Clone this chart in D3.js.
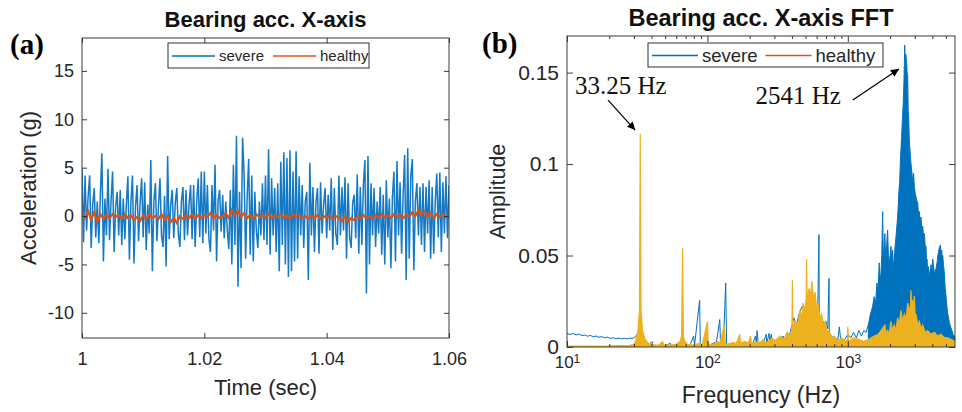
<!DOCTYPE html>
<html>
<head>
<meta charset="utf-8">
<script src="https://cdn.jsdelivr.net/npm/d3@7"></script>
<style>
body{margin:0;background:#fff}
</style>
</head>
<body>
<script>
// ---- (a) time signal, sampled every 0.25 ms from t = 1 s ----
let t0 = 1, dt = 0.00025, dtH = 0.0005
let severeAcc = [
  4.9, -2.7, 4.2, -1.5, 2.0, 4.2, -3.3, 1.2, 2.9, -2.2,
  1.5, -2.8, 2.2, 6.5, -4.7, 1.8, -2.0, 4.9, -2.5, 1.6,
  4.6, -3.7, 1.0, 2.5, -2.0, 2.7, -3.0, 1.8, -2.4, 1.2,
  4.1, -4.5, 1.5, 4.2, -4.9, 1.0, 3.2, -2.6, 1.4, 3.9,
  -2.2, 3.5, -3.5, 1.2, -1.8, 5.8, -5.7, 1.5, 3.4, -2.6,
  1.0, 3.9, -2.0, -3.2, 2.1, -5.2, 6.2, -2.4, 1.1, 2.7,
  -2.3, 1.4, 2.9, -1.8, -3.2, 1.5, 3.0, -2.5, 2.7, -2.0,
  1.2, 3.2, -2.4, 3.2, -3.2, 1.5, 3.9, -2.2, 4.6, -2.8,
  4.6, -1.8, 3.2, -2.4, -3.7, 3.2, -1.5, 5.3, -4.7, 1.6,
  2.7, -1.6, 2.2, -2.3, 1.5, -1.4, -3.4, 2.7, -5.0, 5.3,
  -3.0, 8.3, -7.3, 2.5, -5.4, 8.1, 4.4, -4.4, 2.0, 5.9,
  -4.0, 4.2, -4.7, 2.5, -1.5, -3.3, 1.5, -2.0, 3.4, -2.5,
  4.2, -3.0, 6.9, -4.0, 3.9, -2.0, 2.9, -3.7, 3.4, -5.7,
  5.6, -3.0, 6.6, -5.0, 6.0, -6.3, 6.8, -5.7, 4.6, -4.7,
  6.7, -4.4, 4.1, -2.0, 3.2, -3.3, 1.5, 2.5, -6.6, 5.5,
  -2.0, 3.0, -3.7, 1.4, 2.9, -3.9, 3.5, -1.8, 1.2, 2.9,
  -2.3, 2.2, -1.5, 3.9, -3.5, 2.9, -1.8, -3.0, 4.2, -2.0,
  3.0, -1.5, 4.0, -4.4, 3.4, -2.2, -3.3, 1.4, 2.2, -2.3,
  4.3, -3.9, 3.0, -3.0, 3.2, 5.8, -8.0, 6.2, -5.0, 3.4,
  -2.0, 2.9, -3.2, 1.5, -1.8, 3.0, -4.0, 2.2, -5.0, 3.7,
  -2.2, 1.8, -5.4, 2.0, 4.6, -4.7, 5.7, -2.0, 3.5, -3.9,
  2.2, 6.3, -6.6, 7.0, -4.4, 4.1, 5.9, -5.6, 1.5, 3.4,
  -2.0, 3.0, -3.0, 3.4, -3.7, 3.0, -1.8, 3.7, -4.4, 3.0,
  -3.9, 1.5, 4.4, -2.2, 4.5, -3.7, 3.5, -1.8, 4.1, -2.3,
  3.2
]
let healthyAcc = [
  0.3, -0.2, 0.5, -0.4, 0.4, -0.6, 0.2, -0.3, 0.1, -0.2,
  0.2, -0.1, 0.1, -0.3, 0.2, -0.2, 0.1, -0.4, -0.1, -0.5,
  0.1, -0.3, 0.2, -0.2, 0.0, -0.3, 0.2, -0.4, 0.0, -0.6,
  -0.2, -0.7, 0.0, -0.3, 0.1, -0.2, 0.2, -0.3, 0.1, -0.2,
  0.1, -0.1, 0.3, -0.2, 0.1, -0.2, 0.0, 0.3, -0.2, 0.6,
  0.1, 0.5, -0.1, 0.3, -0.2, 0.1, -0.3, 0.2, -0.1, 0.1,
  -0.2, 0.2, -0.2, 0.1, -0.1, 0.2, -0.2, 0.1, -0.3, 0.2,
  -0.1, 0.1, -0.2, 0.0, -0.3, 0.1, -0.2, 0.1, -0.3, 0.0,
  -0.2, 0.1, -0.3, 0.0, -0.2, -0.5, 0.0, -0.6, -0.2, -0.4,
  0.0, -0.3, 0.1, -0.2, 0.0, -0.3, 0.1, -0.2, 0.2, -0.1,
  0.1, -0.2, 0.2, -0.1, 0.2, -0.2, 0.1, -0.1, 0.4, 0.0,
  0.6, 0.1, 0.5, -0.1, 0.3, -0.2, 0.2, -0.1, 0.2, -0.1, 0.0
]
let timeTicks = [1, 1.02, 1.04, 1.06]
let accTicks = [-10, -5, 0, 5, 10, 15]

// ---- (b) FFT amplitude ----
// severe: low/mid frequency trace
let sevFreq = [10, 10.5, 11, 11.6, 12.2, 12.8, 13.4, 14, 14.7, 15.4, 16.1, 16.9, 17.7, 18.5, 19.4, 20.3, 21.3, 22.3, 23.4, 24.5,
  25.7, 26.9, 28.2, 29.5, 30.6, 31.6, 32.5, 33.25, 34, 35, 36.5, 38, 40.3, 41, 45, 50, 54.5, 55, 60, 66.5,
  68, 75, 79.8, 81, 88, 89, 95, 100, 104, 113, 115, 122.5, 124, 130, 135, 137, 150, 160, 165, 180,
  190, 200, 210, 220, 223, 226, 230, 245, 250, 262, 265, 275, 278, 285, 288, 300, 310, 320, 330, 345,
  355, 370, 380, 400, 413, 430, 450, 470, 490, 510, 530, 550, 570, 590, 610, 623, 626, 650, 680, 700,
  720, 735, 738, 760, 800, 850, 870, 890, 950, 1000, 1050, 1100, 1150, 1200, 1250, 1300, 1350, 1400]
let sevAmp = [.0075, .0068, .0074, .0066, .0071, .0062, .0066, .0059, .0063, .0056, .0060, .0053, .0057, .0050, .0054, .0047, .0051, .0045, .0049, .0044,
  .0048, .0044, .0049, .0047, .0056, .0070, .0095, .012, .006, .003, .0015, .001, .003, .0008, .0006, .0008, .002, .0007, .0008, .004,
  .0008, .0009, .006, .0009, .0256, .001, .0012, .003, .001, .0025, .001, .015, .0012, .0015, .035, .0012, .0015, .002, .0015, .0025,
  .0015, .003, .0015, .006, .0018, .009, .002, .003, .002, .007, .002, .0075, .002, .007, .002, .004, .003, .005, .003, .006,
  .004, .008, .005, .012, .016, .012, .018, .022, .02, .025, .022, .024, .02, .022, .018, .0614, .015, .016, .012, .014,
  .01, .0375, .008, .006, .005, .004, .011, .004, .004, .007, .005, .008, .005, .009, .006, .009, .008, .012]
// severe: dense band around the 2541 Hz resonance (upper envelope)
let sevBandFreq = [1400, 1450, 1500, 1541, 1580, 1611, 1640, 1674, 1700, 1722, 1745, 1770, 1785, 1799, 1818, 1837, 1860, 1878, 1900, 1921,
  1945, 1972, 2000, 2028, 2055, 2085, 2110, 2142, 2170, 2202, 2230, 2263, 2290, 2312, 2340, 2364, 2390, 2417, 2440, 2458,
  2480, 2500, 2520, 2541, 2560, 2590, 2625, 2650, 2669, 2690, 2714, 2741, 2760, 2786, 2820, 2850, 2880, 2913, 2940, 2977,
  3020, 3061, 3100, 3147, 3190, 3231, 3280, 3321, 3370, 3418, 3460, 3508, 3560, 3607, 3640, 3666, 3700, 3749, 3780, 3811,
  3860, 3918, 3970, 4027, 4080, 4140, 4200, 4256, 4320, 4375, 4430, 4490, 4562, 4620, 4667, 4700, 4744, 4800, 4876, 4940,
  5012, 5080, 5152, 5220, 5296, 5400, 5509, 5620, 5745, 5800]
let sevBandAmp = [.012, .018, .022, .0275, .024, .035, .03, .046, .036, .04, .05, .074, .05, .05, .058, .062, .048, .05, .058, .064,
  .05, .045, .05, .055, .048, .053, .045, .047, .055, .06, .065, .071, .078, .085, .09, .1, .108, .115, .122, .127,
  .133, .14, .15, .165, .158, .16, .155, .149, .149, .13, .125, .113, .11, .105, .1, .0965, .093, .09, .095, .0874,
  .084, .082, .08, .079, .072, .074, .068, .071, .064, .066, .06, .062, .055, .055, .045, .048, .042, .044, .038, .04,
  .042, .045, .04, .048, .044, .04, .042, .043, .046, .05, .052, .0545, .0556, .05, .053, .047, .05, .045, .04, .032,
  .0275, .022, .018, .016, .013, .011, .009, .007, .0056, .006]
// healthy: whole spectrum
let heaFreq = [10, 20, 28, 30, 31, 32, 32.8, 33.25, 33.7, 34.5, 36, 38, 42, 45, 48, 49, 55, 60, 64, 65.5,
  66.5, 67.5, 69, 72, 78, 83, 88, 92, 100, 101.5, 110, 120, 122, 132, 134, 145, 155, 160, 170, 172,
  185, 195, 203, 206, 230, 240, 250, 260, 270, 290, 300, 310, 330, 350, 370, 390, 400, 403, 406, 420,
  440, 455, 470, 480, 495, 505, 509, 513, 530, 544, 555, 570, 585, 600, 615, 630, 650, 670, 690, 710,
  740, 770, 800, 850, 900, 960, 995, 1000, 1010, 1100, 1200, 1300, 1390, 1541, 1650, 1722, 1837, 1880, 1921, 1970,
  2028, 2080, 2142, 2200, 2263, 2320, 2390, 2450, 2525, 2600, 2669, 2741, 2790, 2818, 2850, 2880, 2930, 2977, 3020, 3061,
  3150, 3231, 3330, 3418, 3550, 3700, 3900, 4140, 4350, 4600, 4900, 5152, 5500, 5800]
let heaAmp = [.0005, .0006, .0009, .0015, .004, .009, .02, .1165, .02, .009, .004, .002, .0012, .001, .003, .001, .001, .0015, .003, .006,
  .054, .006, .003, .0015, .001, .0015, .002, .0014, .0138, .0015, .0015, .003, .0012, .012, .0015, .002, .0025, .0015, .007, .002,
  .003, .002, .006, .002, .003, .002, .004, .002, .003, .005, .003, .004, .006, .004, .008, .006, .01, .0365, .01, .014,
  .012, .02, .016, .024, .02, .026, .048, .025, .032, .028, .036, .026, .03, .02, .024, .016, .018, .012, .014, .009,
  .008, .005, .006, .003, .005, .003, .004, .011, .003, .005, .004, .003, .004, .006, .007, .009, .012, .007, .009, .007,
  .014, .009, .012, .009, .016, .012, .02, .014, .018, .015, .024, .02, .022, .031, .02, .026, .02, .028, .016, .018,
  .012, .014, .01, .012, .008, .009, .007, .008, .006, .007, .005, .005, .004, .003]
let freqTicks = [10, 100, 1000]
let ampTicks = [0, 0.05, 0.1, 0.15]
let seriesNames = ['severe', 'healthy']

// annotations (data coordinates)
let noteText = ['33.25 Hz', '2541 Hz']
let noteAt = [[11.4, 0.1383], [220, 0.1328]]
let arrowFrom = [[19.6, 0.135], [1086, 0.135]]
let arrowTo = [[30.6, 0.1186], [2312, 0.152]]

let sans = '"Liberation Sans", Arial, sans-serif'
let serif = '"Liberation Serif", "Times New Roman", serif'
let ink = '#262626'
let blue = '#0072BD', orange = '#D95319', yellow = '#EDB120'

let svg = d3.select('body').append('svg').attr('width', 962).attr('height', 412)
svg.append('rect').attr('width', 962).attr('height', 412).attr('fill', '#fff')

let defs = svg.append('defs')
defs.append('clipPath').attr('id', 'clipA').append('rect')
  .attr('x', 82).attr('y', 38).attr('width', 367).attr('height', 300)
defs.append('clipPath').attr('id', 'clipB').append('rect')
  .attr('x', 567).attr('y', 36).attr('width', 388).attr('height', 311)
defs.append('marker').attr('id', 'arrow').attr('viewBox', '0 0 10 10')
  .attr('refX', 10).attr('refY', 5).attr('markerWidth', 10).attr('markerHeight', 8)
  .attr('markerUnits', 'userSpaceOnUse').attr('orient', 'auto')
  .append('path').attr('d', 'M0,0L10,5L0,10z').attr('fill', '#000')

function styleAxis(g, size) {
  g.select('.domain').remove()
  g.attr('font-size', size).attr('font-family', sans).attr('color', ink)
  g.selectAll('.tick line').attr('stroke-width', 0.9)
}

function legend(x, y, w, h, size, lineLen, gap) {
  let g = svg.append('g')
  g.append('rect').attr('x', x).attr('y', y).attr('width', w).attr('height', h)
    .attr('fill', '#fff').attr('stroke', '#333').attr('stroke-width', 1)
  let cx = x + 4
  seriesNames.forEach((name, i) => {
    g.append('line').attr('x1', cx).attr('x2', cx + lineLen).attr('y1', y + h / 2 + 0.5).attr('y2', y + h / 2 + 0.5)
      .attr('stroke', i ? orange : blue).attr('stroke-width', 1.5)
    let t = g.append('text').attr('x', cx + lineLen + 4).attr('y', y + h / 2 + size * 0.36)
      .attr('font-family', sans).attr('font-size', size).attr('fill', ink).text(name)
    cx += lineLen + 4 + t.node().getComputedTextLength() + gap
  })
}

// ================= (a) =================
let xA = d3.scaleLinear().domain([1, 1.06]).range([82, 449])
let yA = d3.scaleLinear().domain([-12.6, 18.4]).range([338, 38])

let plotA = svg.append('g').attr('clip-path', 'url(#clipA)')
plotA.append('path').datum(severeAcc)
  .attr('d', d3.line().x((d, i) => xA(t0 + i * dt)).y(d => yA(d)))
  .attr('fill', 'none').attr('stroke', '#1479c4').attr('stroke-width', 1.5)
plotA.append('path').datum(healthyAcc)
  .attr('d', d3.line().x((d, i) => xA(t0 + i * dtH)).y(d => yA(d)))
  .attr('fill', 'none').attr('stroke', orange).attr('stroke-width', 2.2)

svg.append('g').attr('transform', 'translate(0,338)')
  .call(d3.axisBottom(xA).tickValues(timeTicks).tickSize(-5).tickPadding(14).tickFormat(d => d))
  .call(g => styleAxis(g, 18))
svg.append('g').attr('transform', 'translate(0,38)')
  .call(d3.axisTop(xA).tickValues(timeTicks).tickSize(-5).tickFormat(() => ''))
  .call(g => styleAxis(g, 18))
svg.append('g').attr('transform', 'translate(82,0)')
  .call(d3.axisLeft(yA).tickValues(accTicks).tickSize(-5).tickPadding(8).tickFormat(d => d))
  .call(g => styleAxis(g, 18))
svg.append('g').attr('transform', 'translate(449,0)')
  .call(d3.axisRight(yA).tickValues(accTicks).tickSize(-5).tickFormat(() => ''))
  .call(g => styleAxis(g, 18))
svg.append('rect').attr('x', 82).attr('y', 38).attr('width', 367).attr('height', 300)
  .attr('fill', 'none').attr('stroke', '#3a3a3a').attr('stroke-width', 1)

svg.append('text').attr('x', 265.5).attr('y', 27).attr('text-anchor', 'middle')
  .attr('font-family', sans).attr('font-weight', 'bold').attr('font-size', 22).attr('fill', '#111')
  .text('Bearing acc. X-axis')
svg.append('text').attr('x', 265.5).attr('y', 395).attr('text-anchor', 'middle')
  .attr('font-family', sans).attr('font-size', 22).attr('fill', ink).text('Time (sec)')
svg.append('text').attr('transform', 'translate(36,188) rotate(-90)').attr('text-anchor', 'middle')
  .attr('font-family', sans).attr('font-size', 22).attr('fill', ink).text('Acceleration (g)')
svg.append('text').attr('x', 10).attr('y', 54)
  .attr('font-family', serif).attr('font-weight', 'bold').attr('font-size', 29).attr('fill', '#000').text('(a)')

legend(168, 43, 201, 25, 15, 43, 9)

// ================= (b) =================
let xB = d3.scaleLog().domain([10, 5800]).range([567, 955])
let yB = d3.scaleLinear().domain([0, 0.17]).range([347, 36])

let plotB = svg.append('g').attr('clip-path', 'url(#clipB)')
plotB.append('path').datum(sevAmp)
  .attr('d', d3.line().x((d, i) => xB(sevFreq[i])).y(d => yB(d)))
  .attr('fill', 'none').attr('stroke', blue).attr('stroke-width', 1)
plotB.append('path').datum(sevBandAmp)
  .attr('d', d3.area().x((d, i) => xB(sevBandFreq[i])).y0(yB(0)).y1(d => yB(d)))
  .attr('fill', blue).attr('stroke', blue).attr('stroke-width', 1)
plotB.append('path').datum(heaAmp)
  .attr('d', d3.area().x((d, i) => xB(heaFreq[i])).y0(yB(0)).y1(d => yB(d)))
  .attr('fill', yellow).attr('stroke', yellow).attr('stroke-width', 1.2)

let minorF = xB.ticks().filter(d => !freqTicks.includes(d))
let axB = svg.append('g').attr('transform', 'translate(0,347)')
  .call(d3.axisBottom(xB).tickValues(freqTicks).tickSize(-6).tickPadding(9).tickFormat(() => ''))
  .call(g => styleAxis(g, 17))
axB.selectAll('.tick text').each(function (d) {
  let t = d3.select(this)
  t.append('tspan').text('10')
  t.append('tspan').attr('dy', '-0.45em').attr('font-size', 12).text(Math.round(Math.log10(d)))
})
svg.append('g').attr('transform', 'translate(0,347)')
  .call(d3.axisBottom(xB).tickValues(minorF).tickSize(-3).tickFormat(() => ''))
  .call(g => styleAxis(g, 17))
svg.append('g').attr('transform', 'translate(0,36)')
  .call(d3.axisTop(xB).tickValues(freqTicks).tickSize(-6).tickFormat(() => ''))
  .call(g => styleAxis(g, 17))
svg.append('g').attr('transform', 'translate(0,36)')
  .call(d3.axisTop(xB).tickValues(minorF).tickSize(-3).tickFormat(() => ''))
  .call(g => styleAxis(g, 17))
svg.append('g').attr('transform', 'translate(567,0)')
  .call(d3.axisLeft(yB).tickValues(ampTicks).tickSize(-6).tickPadding(8).tickFormat(d => d))
  .call(g => styleAxis(g, 21))
svg.append('g').attr('transform', 'translate(955,0)')
  .call(d3.axisRight(yB).tickValues(ampTicks).tickSize(-6).tickFormat(() => ''))
  .call(g => styleAxis(g, 21))
svg.append('rect').attr('x', 567).attr('y', 36).attr('width', 388).attr('height', 311)
  .attr('fill', 'none').attr('stroke', '#3a3a3a').attr('stroke-width', 1)

svg.append('text').attr('x', 761).attr('y', 26).attr('text-anchor', 'middle')
  .attr('font-family', sans).attr('font-weight', 'bold').attr('font-size', 23.5).attr('fill', '#111')
  .text('Bearing acc. X-axis FFT')
svg.append('text').attr('x', 761).attr('y', 403).attr('text-anchor', 'middle')
  .attr('font-family', sans).attr('font-size', 23).attr('fill', ink).text('Frequency (Hz)')
svg.append('text').attr('transform', 'translate(505,191.5) rotate(-90)').attr('text-anchor', 'middle')
  .attr('font-family', sans).attr('font-size', 21.5).attr('fill', ink).text('Amplitude')
svg.append('text').attr('x', 482).attr('y', 53)
  .attr('font-family', serif).attr('font-weight', 'bold').attr('font-size', 29).attr('fill', '#000').text('(b)')

legend(648, 43, 235, 24, 18.5, 46, 8)

// annotations
noteText.forEach((txt, i) => {
  svg.append('text').attr('x', xB(noteAt[i][0])).attr('y', yB(noteAt[i][1]))
    .attr('font-family', serif).attr('font-size', 25).attr('fill', '#111').text(txt)
  svg.append('line')
    .attr('x1', xB(arrowFrom[i][0])).attr('y1', yB(arrowFrom[i][1]))
    .attr('x2', xB(arrowTo[i][0])).attr('y2', yB(arrowTo[i][1]))
    .attr('stroke', '#000').attr('stroke-width', 1.2).attr('marker-end', 'url(#arrow)')
})
</script>
</body>
</html>
